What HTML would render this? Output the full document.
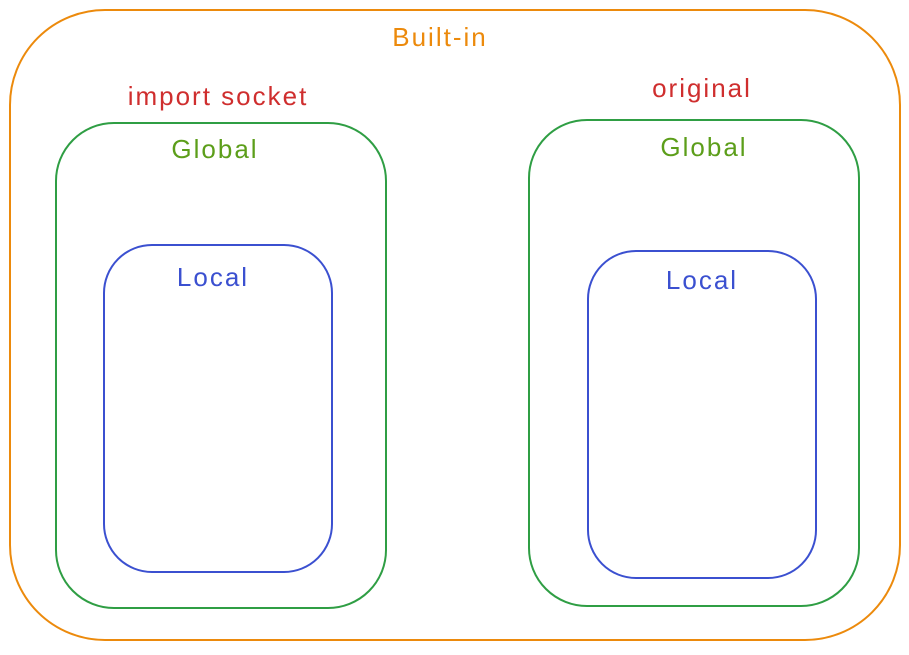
<!DOCTYPE html>
<html><head><meta charset="utf-8"><style>
html,body{margin:0;padding:0;background:#fff;}
svg text{font-family:"Comic Sans MS","Liberation Sans",sans-serif;letter-spacing:2px;}
</style></head><body>
<svg width="909" height="650" viewBox="0 0 909 650" xmlns="http://www.w3.org/2000/svg">
<g fill="none" stroke-width="2">
<rect x="10" y="10" width="890" height="630" rx="95" stroke="#ec8a0c"/>
<rect x="56" y="123" width="330" height="485" rx="58" stroke="#2f9e44"/>
<rect x="104" y="245" width="228" height="327" rx="48" stroke="#3b50d0"/>
<rect x="529" y="120" width="330" height="486" rx="58" stroke="#2f9e44"/>
<rect x="588" y="251" width="228" height="327" rx="48" stroke="#3b50d0"/>
</g>
<g text-anchor="middle" font-size="26">
<text x="440" y="46" fill="#ec8a0c">Built-in</text>
<text x="218" y="105" fill="#cf2e2e">import socket</text>
<text x="702" y="97" fill="#cf2e2e">original</text>
<text x="215" y="158" fill="#5c9e1a">Global</text>
<text x="704" y="156" fill="#5c9e1a">Global</text>
<text x="213" y="286" fill="#3b50d0">Local</text>
<text x="702" y="289" fill="#3b50d0">Local</text>
</g>
</svg>
</body></html>
